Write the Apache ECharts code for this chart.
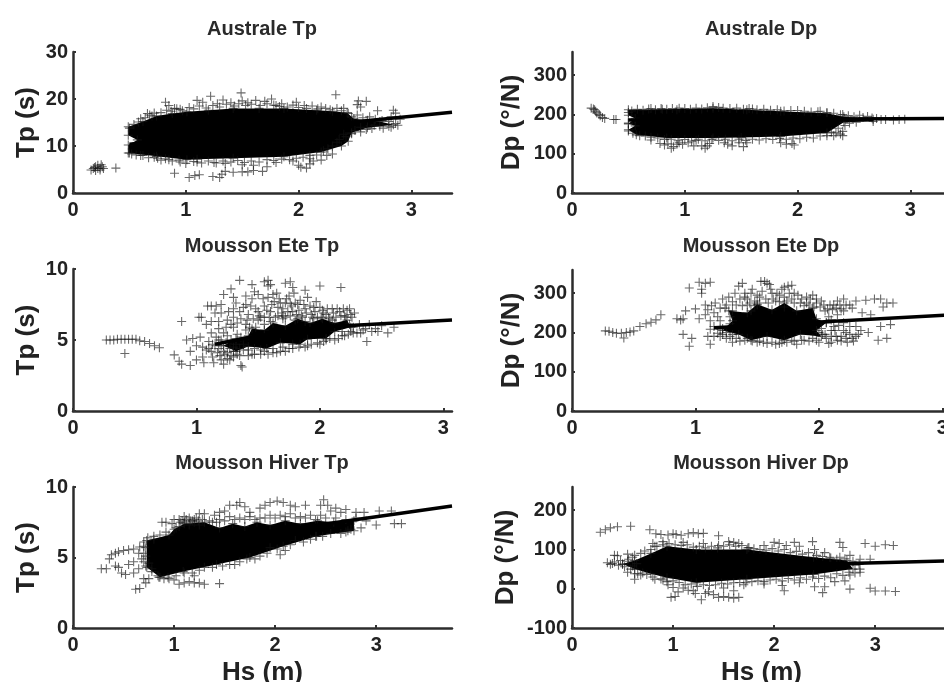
<!DOCTYPE html>
<html><head><meta charset="utf-8">
<style>html,body{margin:0;padding:0;background:#fff;overflow:hidden}#c{width:944px;height:682px;filter:blur(0.55px)}</style>
<script src="https://cdn.jsdelivr.net/npm/echarts@6/dist/echarts.min.js"></script>
</head><body><div id="c"></div>
<script>
const titles=['Australe Tp','Australe Dp','Mousson Ete Tp','Mousson Ete Dp','Mousson Hiver Tp','Mousson Hiver Dp'];
const yNames=['Tp (s)','Dp (°/N)','Tp (s)','Dp (°/N)','Tp (s)','Dp (°/N)'];
const xTicks=[0,1,2,3];
const yTicks=[[0,10,20,30],[0,100,200,300],[0,5,10],[0,100,200,300],[0,5,10],[-100,0,100,200]];
const xMax=[3.36,3.36,3.07,3.07,3.75,3.75];
const yMin=[0,0,0,0,0,-100];
const yMax=[30,359,10,359,10,259];

// dense, fully overprinted core of each cloud, read as an outline [Hs, value]
const core1=[[0.49,14.1],[0.62,15.2],[0.74,16.4],[0.88,16.9],[1.01,17.3],[1.2,17.6],[1.42,18],[1.65,18],[1.87,18],[2.16,17.6],[2.3,17.4],[2.43,17.1],[2.49,15.8],[2.61,15.5],[2.72,15.2],[2.84,14.5],[2.61,13.9],[2.47,12.8],[2.44,11],[2.38,10],[2.2,8.7],[1.87,7.7],[1.42,7.4],[1.1,7.2],[1.01,7.1],[0.74,7.8],[0.49,8.5],[0.49,10.2],[0.57,11.3],[0.49,12.3]];
const core2=[[0.5,212],[0.8,213],[1.25,216],[1.55,212],[1.85,208],[2.26,203],[2.41,194],[2.67,188],[2.67,182],[2.41,180],[2.26,153],[1.85,144],[1.5,141],[1.25,140],[0.84,140],[0.57,148],[0.5,161],[0.56,171],[0.5,176],[0.56,190],[0.5,198]];
const core3=[[1.22,4.6],[1.32,5.1],[1.42,5.3],[1.45,5.8],[1.55,5.7],[1.62,6.2],[1.72,6],[1.82,6.5],[1.92,6.2],[2.02,6.5],[2.12,6.2],[2.22,6.4],[2.25,5.9],[2.12,5.6],[2.05,5.1],[1.9,5.05],[1.84,4.7],[1.68,4.8],[1.57,4.4],[1.42,4.55],[1.32,4.2]];
const core4=[[1.22,205],[1.3,230],[1.27,255],[1.42,250],[1.5,272],[1.62,258],[1.72,275],[1.82,255],[1.95,262],[1.98,235],[2.06,225],[1.98,205],[2.02,190],[1.85,195],[1.72,180],[1.58,190],[1.45,180],[1.35,195]];
const core5=[[0.73,6.2],[0.95,6.6],[1,7],[1.1,7.4],[1.3,7.5],[1.45,7.1],[1.58,7.4],[1.7,7.2],[1.82,7.5],[1.95,7.3],[2.1,7.6],[2.25,7.4],[2.42,7.6],[2.58,7.5],[2.78,7.6],[2.78,6.9],[2.41,6.5],[2.08,5.8],[1.75,5],[1.42,4.5],[1.09,4],[0.86,3.6],[0.73,4.3]];
const core6=[[0.5,63],[0.62,72],[0.78,90],[0.94,108],[1.23,100],[1.73,100],[2.39,80],[2.72,72],[2.78,50],[2.39,36],[1.73,24],[1.23,15],[0.94,28],[0.78,38],[0.62,50]];

// individually visible crosses [Hs, value]
const marks1=[[0.16,4.9],[0.18,5.2],[0.2,5.6],[0.22,5.9],[0.24,5.3],[0.26,5.6],[0.2,4.8],[0.24,4.9],[0.22,5.2],[0.19,5.4],[0.25,6],[0.27,5.2],[0.38,5.3],[0.66,16.9],[0.68,16.6],[0.82,19.3],[0.85,18.6],[0.9,18],[0.95,17.8],[1.1,19.7],[1.15,19.3],[1.22,20.6],[1.28,19],[1.33,19.8],[1.4,19.2],[1.49,21.3],[1.5,19.6],[1.55,19.2],[1.62,19.7],[1.7,19.5],[1.76,20],[1.8,18.6],[1.85,19],[1.98,19.3],[2.05,18.6],[2.2,18.3],[2.33,20.9],[2.4,18],[2.53,19.6],[2.6,19.5],[2.52,18.8],[2.55,18.3],[2.7,17.5],[2.84,17.6],[2.86,17],[2.82,16.2],[2.9,15.7],[2.75,13.8],[2.82,14],[2.65,13.7],[2.5,13.3],[2.55,14],[2.4,12.5],[0.9,4.2],[1.03,3.3],[1.08,3.7],[1.12,3.9],[1.24,3.5],[1.3,3.3],[1.32,4],[1.35,4.6],[1.42,4.4],[1.5,4.5],[1.55,4.5],[1.6,4.8],[1.68,4.6],[1.72,5.6],[1.35,6.3],[1.5,6],[1.6,5.9],[1.8,6.5],[2,5.9],[2.02,5.5],[2.07,5.3],[2.1,6.2],[2.13,6.8],[2.2,7],[2.25,8],[2.3,8.3],[2.1,7.3],[1.95,6.8],[1.25,6.5],[1.1,6.6],[0.95,6.6],[0.85,7.1],[0.75,7.4],[0.6,8],[0.5,8.5],
[0.5,13.8],[0.54,14.6],[0.58,15.1],[0.6,15.8],[0.64,16],[0.7,16.4],[0.72,17],[0.78,17.1],[0.83,17.6],[0.87,17.4],[0.92,17.9],[0.97,17.5],[1.03,18.2],[1.07,17.9],[1.12,18.5],[1.18,18.1],[1.24,18.6],[1.3,18.3],[1.36,18.9],[1.43,18.5],[1.47,19],[1.53,18.6],[1.58,18.9],[1.66,18.6],[1.72,19],[1.78,18.7],[1.83,18.4],[1.9,18.3],[1.95,18.7],[2,18.2],[2.07,18],[2.12,18.5],[2.17,17.9],[2.24,18],[2.28,17.7],[2.34,18],[2.38,17.5],[2.44,16.9],[2.47,16.2],[2.52,16.6],[2.57,16],[2.63,16.2],[2.68,15.7],[2.74,15.4],[2.8,15.2],[2.86,14.8],[2.88,14.4],[2.8,14.2],[2.72,14.2],[2.67,14.4],[2.6,13.5],[2.55,13],[2.47,12.6],[2.42,12],[2.36,11.4],[2.34,10.8],[2.3,10],[2.26,9.4],[2.22,9],[2.16,8.1],[2.1,8],[2.04,7.6],[1.98,7.4],[1.92,7.1],[1.85,7.2],[1.78,6.9],[1.72,7.1],[1.65,6.6],[1.58,6.8],[1.52,6.5],[1.46,6.9],[1.4,6.6],[1.33,6.8],[1.27,6.4],[1.2,6.8],[1.14,6.4],[1.07,6.7],[1,6.3],[0.94,7],[0.88,6.8],[0.82,7.3],[0.78,7],[0.72,7.6],[0.67,7.5],[0.62,8],[0.56,8.1],[0.52,8.3]];
const marks2=[[0.17,216],[0.19,214],[0.2,212],[0.21,208],[0.22,204],[0.24,200],[0.25,197],[0.27,192],[0.29,190],[0.37,187],[0.39,187],[0.5,205],[0.5,178],[0.5,158],[0.7,215],[0.95,216],[1.25,220],[1.3,218],[1.6,214],[2,210],[2.2,208],[2.4,200],[2.55,198],[2.62,195],[2.7,190],[2.78,187],[2.85,186],[2.9,187],[2.95,188],[2.4,146],[2.38,150],[2.32,146],[2.3,155],[0.78,126],[0.82,122],[0.85,125],[0.88,114],[0.9,118],[0.93,124],[0.95,128],[0.98,124],[1.03,128],[1.08,120],[1.15,120],[1.18,114],[1.2,120],[1.22,126],[1.35,128],[1.38,124],[1.42,120],[1.48,128],[1.52,118],[1.55,128],[1.85,128],[1.9,124],[1.95,126],[1.97,122],[0.7,135],[1.1,134],
[0.53,209],[0.58,213],[0.63,211],[0.68,214],[0.74,212],[0.79,215],[0.84,213],[0.89,215],[0.93,212],[1,215],[1.05,213],[1.1,216],[1.15,214],[1.2,217],[1.34,216],[1.4,215],[1.46,216],[1.52,213],[1.57,215],[1.64,212],[1.7,213],[1.76,211],[1.82,212],[1.88,209],[1.94,210],[2.06,208],[2.12,206],[2.18,207],[2.26,205],[2.32,203],[2.38,199],[2.45,197],[2.5,194],[2.58,192],[2.66,191],[2.74,187],[0.54,152],[0.6,146],[0.65,145],[0.7,142],[0.76,140],[0.82,136],[0.88,137],[0.94,133],[1,136],[1.06,132],[1.12,137],[1.18,133],[1.24,136],[1.3,134],[1.36,137],[1.42,133],[1.48,137],[1.54,134],[1.6,137],[1.66,135],[1.72,138],[1.78,136],[1.84,139],[1.9,137],[1.96,140],[2.02,138],[2.08,142],[2.14,140],[2.2,145],[2.26,146],[2.34,153],[2.4,157],[2.36,165],[2.42,172],[2.46,178],[2.52,180]];
const marks3=[[0.27,5],[0.3,5],[0.33,5],[0.36,5.05],[0.39,5.05],[0.42,5.05],[0.45,5.05],[0.48,5.05],[0.51,5.05],[0.54,4.95],[0.58,4.9],[0.62,4.75],[0.66,4.6],[0.7,4.45],[0.42,4.05],[0.82,3.95],[0.86,3.5],[0.88,3.3],[0.95,3.2],[0.88,6.3],[0.92,5],[0.97,5.1],[0.95,4.2],[1,4.6],[1.03,5.2],[1.02,6.6],[1.04,6.6],[1,3.6],[1.05,3.8],[1.06,3.4],[1.08,4.3],[1.1,4.9],[1.12,5.5],[1.08,6.1],[1.09,7.4],[1.12,7.4],[1.16,7.4],[1.12,6.3],[1.18,6.3],[1.14,3.4],[1.2,3.6],[1.22,3.3],[1.25,3.7],[1.28,3.9],[1.22,8.2],[1.28,8.6],[1.3,8],[1.3,7.2],[1.35,9.2],[1.37,3.1],[1.36,3.2],[1.45,8.9],[1.55,9.1],[1.58,9.2],[1.58,8.8],[1.6,8.9],[1.72,9],[1.76,9.1],[1.78,8.7],[1.88,8.5],[2,8.8],[2.17,8.7],[1.68,7.6],[1.72,7.6],[1.76,7.55],[1.8,7.6],[1.2,6.9],[1.25,6.4],[1.3,6.6],[1.35,7],[1.4,7.5],[1.42,6.8],[1.45,7.9],[1.48,7.2],[1.5,8.2],[1.52,6.6],[1.55,7.4],[1.58,8],[1.6,7],[1.63,7.7],[1.65,8.3],[1.66,6.7],[1.7,7.2],[1.72,6.6],[1.75,8.1],[1.78,7],[1.82,7.5],[1.85,6.7],[1.88,7.2],[1.9,8],[1.93,6.8],[1.95,7.3],[1.98,6.6],[2.02,7.1],[2.05,6.8],[2.08,6.5],[2.1,7.2],[2.13,6.6],[2.16,7],[2.2,6.7],[2.22,7.1],[2.25,6.8],[1.2,4.6],[1.25,4.1],[1.3,5.9],[1.35,3.9],[1.4,6.1],[1.45,4],[1.5,6.4],[1.55,4.2],[1.6,6.3],[1.65,4.1],[1.7,6.5],[1.75,4.4],[1.8,6.4],[1.9,4.6],[1.95,6.5],[2,4.7],[2.05,5],[2.1,6.4],[2.15,5.1],[2.2,5.3],[2.25,5.6],[2.3,5.5],[2.32,6.1],[2.35,5.7],[2.38,4.9],[2.4,6.1],[2.45,5.8],[2.5,6],[2.55,5.5],[2.6,5.9],[1.12,4.2],[1.18,5],[1.22,5.5],[1.15,4.6],[1.3,4.5],[1.38,4.7],[1.05,4.5],
[1.15,6.9],[1.18,5.8],[1.2,7.5],[1.24,5.9],[1.26,7],[1.28,6.1],[1.32,7.6],[1.33,6.2],[1.36,6.5],[1.38,7.3],[1.4,8.1],[1.41,6.4],[1.44,7.4],[1.46,6.5],[1.47,8.4],[1.5,7],[1.51,6.7],[1.54,7.9],[1.55,6.6],[1.57,7.1],[1.59,6.6],[1.61,7.5],[1.62,8.2],[1.64,6.6],[1.66,7.3],[1.67,7.9],[1.69,6.9],[1.7,6.7],[1.73,7.9],[1.74,7],[1.76,6.7],[1.77,7.4],[1.79,8.3],[1.81,6.8],[1.83,7.1],[1.84,7.8],[1.86,6.6],[1.87,7.5],[1.89,6.9],[1.92,7.4],[1.94,6.6],[1.96,7],[1.97,7.7],[2,7.3],[2.01,6.6],[2.03,6.9],[2.06,7.2],[2.07,6.6],[2.11,6.9],[2.14,7.2],[2.17,6.7],[2.19,7.2],[2.21,6.6],[2.24,7.2],[2.26,6.6],[2.28,6.9],[1.1,4.4],[1.13,3.8],[1.17,4.1],[1.19,3.9],[1.23,4],[1.27,3.6],[1.3,3.8],[1.33,4],[1.42,3.9],[1.47,4],[1.52,4],[1.58,4],[1.62,4.1],[1.68,4.2],[1.72,4.2],[1.78,4.4],[1.83,4.5],[1.88,4.5],[1.93,4.7],[1.98,4.8],[2.03,4.9],[2.08,5.1],[2.12,5],[2.18,5.3],[2.23,5.4],[2.27,5.5],[2.33,5.5],[2.37,5.8],[2.42,5.6],[2.47,5.6],
[1.13,4.7],[1.16,5.2],[1.18,4.4],[1.2,5],[1.22,4.2],[1.24,4.8],[1.25,5.3],[1.27,4.4],[1.28,5],[1.3,4.2],[1.32,4.7],[1.33,5.4],[1.35,4.4],[1.36,5.2],[1.38,4.3],[1.4,5.7],[1.42,4.3],[1.43,5.9],[1.47,4.4],[1.48,5.9],[1.52,4.3],[1.55,6.1],[1.62,4.4],[1.7,4.5],[1.78,4.7],[1.88,6.3],[2.18,5.6],[2.24,6.1],[2.27,5.9]];
const marks4=[[0.27,204],[0.3,203],[0.33,200],[0.36,198],[0.4,198],[0.42,186],[0.44,200],[0.47,201],[0.5,204],[0.55,215],[0.6,222],[0.64,226],[0.68,232],[0.72,245],[0.85,235],[0.88,232],[0.9,235],[0.9,195],[0.95,165],[0.97,185],[0.95,313],[0.92,255],[1.03,328],[1.08,325],[1.12,328],[1.05,300],[1.05,310],[1,260],[1.03,235],[1.08,270],[1.12,230],[1.1,190],[1.15,190],[1.12,170],[1.2,190],[1.2,262],[1.25,270],[1.28,240],[1.3,175],[1.32,300],[1.35,318],[1.38,325],[1.4,290],[1.42,270],[1.45,300],[1.48,280],[1.5,175],[1.52,290],[1.53,330],[1.56,330],[1.58,325],[1.6,322],[1.62,300],[1.65,280],[1.65,170],[1.68,295],[1.72,315],[1.75,318],[1.78,320],[1.8,300],[1.82,170],[1.85,275],[1.88,180],[1.9,290],[1.92,270],[1.95,295],[1.98,285],[2,175],[2.02,280],[2.05,255],[2.05,195],[2.08,172],[2.1,175],[2.12,270],[2.15,280],[2.15,180],[2.18,260],[2.2,205],[2.2,285],[2.23,175],[2.25,270],[2.25,195],[2.3,280],[2.32,195],[2.35,250],[2.38,282],[2.4,200],[2.42,245],[2.45,285],[2.48,180],[2.5,285],[2.5,215],[2.52,265],[2.55,275],[2.55,185],[2.6,275],[2.58,220],[1.15,250],[1.2,230],[1.22,210],[1.25,185],[1.3,255],[1.4,180],[1.45,255],[1.5,270],[1.55,175],[1.7,175],[1.72,265],[1.78,180],[1.95,185],[2,200],[2.02,210],[2.1,205],[2.12,215],[2.18,190],[2.2,225],[2.25,215],[2.15,245],[2.08,240],[2.3,215],[1.15,215],[1.2,208],[1.25,200],[1.3,195],[1.12,208],
[1.08,245],[1.1,258],[1.13,268],[1.16,275],[1.18,240],[1.22,285],[1.24,262],[1.27,290],[1.28,222],[1.3,278],[1.33,270],[1.36,285],[1.38,268],[1.4,300],[1.42,285],[1.44,275],[1.46,310],[1.48,268],[1.5,295],[1.52,275],[1.54,305],[1.57,285],[1.59,275],[1.61,310],[1.63,285],[1.66,300],[1.68,278],[1.7,310],[1.72,290],[1.74,280],[1.76,300],[1.78,285],[1.8,275],[1.83,295],[1.86,285],[1.88,268],[1.9,275],[1.93,285],[1.96,265],[1.98,275],[2.01,265],[2.04,270],[2.07,260],[2.09,270],[2.11,258],[2.14,262],[2.17,270],[2.2,255],[2.22,270],[2.27,262],[2.06,225],[2.1,232],[2.13,205],[2.16,218],[2.22,200],[2.27,185],[2.1,190],[2.06,185],[2.03,195],[1.98,180],[1.92,178],[1.86,180],[1.8,178],[1.74,175],[1.68,172],[1.62,175],[1.58,172],[1.52,178],[1.46,178],[1.42,185],[1.36,178],[1.33,185],[1.28,190],[1.22,195],[1.18,198],[2.14,190],[2.18,178],[2.22,185],[2.28,178],[2.3,190],[2.34,205]];
const marks5=[[0.28,4.2],[0.33,4.2],[0.36,4.9],[0.38,5.2],[0.42,5.3],[0.45,5.4],[0.5,5.5],[0.55,5.55],[0.6,5.6],[0.66,5.75],[0.7,5.8],[0.42,4.4],[0.45,4.3],[0.48,3.9],[0.52,3.8],[0.55,4.5],[0.6,3.9],[0.62,2.75],[0.66,2.8],[0.7,3.5],[0.72,3.2],[0.75,3.5],[0.65,4.2],[0.6,4.7],[0.68,4.9],[0.72,5.1],[0.65,5.3],[0.85,3.6],[0.9,3.5],[0.95,3.5],[1,3.4],[1.05,3.1],[1.1,3.2],[1.15,3.3],[1.2,3.2],[1.25,3.2],[1.3,3.1],[1.45,3.15],[1.2,3.7],[0.88,7.5],[0.92,7.5],[0.98,7.4],[1,7.7],[1.05,7.7],[1.1,7.9],[1.15,7.8],[1.2,7.7],[1.25,8.1],[1.3,8.1],[1.4,8],[1.45,8.2],[1.5,8.3],[1.55,8.7],[1.62,8.7],[1.65,8.9],[1.7,8.6],[1.75,8.2],[1.85,8.5],[1.9,8.7],[1.95,8.9],[2.02,9],[2.08,8.9],[2.15,8.7],[2.2,8.6],[2.3,8.7],[2.45,8.7],[2.48,9.1],[2.52,8.7],[2.55,8.3],[2.6,8.5],[2.65,8.2],[2.7,8.4],[2.8,8.2],[2.88,8.2],[3.03,8.3],[3.15,8.3],[3.18,7.4],[3.25,7.4],[3,7.3],[2.9,7.6],[2.85,7.1],[2.75,7],[2.7,6.8],[2.4,6.5],[2.2,6.2],[2.1,5.5],[1.95,5.7],[2.05,5.2],[1.8,4.9],[1.6,4.5],[1.3,4.3],[1.1,3.9],[1.05,7.2],[1.1,7.5],[1.15,7.3],[1.2,7.5],[1.25,7.3],[1.35,7.6],[1.45,7.7],[1.55,7.9],[1.65,7.8],[1.75,7.9],[1.85,7.8],[1.95,8],[2.05,8],[2.15,8.1],[2.25,7.9],[2.35,8],[2.45,8],[1.08,7.6],[1.12,7.7],[1.18,7.6],[1.22,7.8],[0.8,6.3],[0.78,4],[0.75,4.6],
[0.74,6.4],[0.8,6.5],[0.86,6.6],[0.92,6.8],[1.02,7.1],[1.06,7.5],[1.16,7.6],[1.24,7.6],[1.28,7.7],[1.38,7.5],[1.42,7.5],[1.5,7.6],[1.6,7.7],[1.7,7.7],[1.8,7.7],[1.9,7.8],[2,7.8],[2.1,7.9],[2.2,7.8],[2.3,7.8],[2.4,7.7],[2.5,7.8],[2.6,7.8],[2.7,7.7],[2.8,7.8],[2.72,6.9],[2.65,6.7],[2.55,6.7],[2.47,6.5],[2.35,6.3],[2.28,6.1],[2.15,5.9],[2.02,5.6],[1.92,5.3],[1.85,5.1],[1.72,4.9],[1.65,4.7],[1.55,4.5],[1.48,4.4],[1.38,4.3],[1.25,4.1],[1.18,3.9],[1.02,3.7],[0.94,3.6],[0.84,3.7],[0.78,4.2],[0.72,4.4],[0.7,4.7],[0.7,5.3],[0.72,5.7],[0.7,6.1]];
const marks6=[[0.28,144],[0.33,150],[0.38,155],[0.45,158],[0.58,159],[0.77,150],[0.83,140],[0.88,138],[0.95,137],[1,140],[1.03,138],[1.08,136],[1.15,140],[1.2,143],[1.25,140],[1.3,141],[1.45,135],[0.8,115],[0.82,108],[0.9,120],[1.1,118],[1.3,115],[1.45,110],[1.55,120],[1.6,118],[1.65,115],[1.75,105],[1.9,110],[2,118],[2.05,115],[2.12,110],[2.2,118],[2.25,108],[2.38,120],[2.4,100],[2.65,118],[2.68,105],[2.9,115],[3,108],[3.1,112],[3.18,110],[2.95,75],[2.85,75],[2.75,85],[2.5,92],[2.55,80],[2.65,80],[0.35,66],[0.4,64],[0.42,85],[0.45,84],[0.5,62],[0.55,70],[0.6,58],[0.6,80],[0.65,38],[0.62,24],[0.7,40],[0.8,30],[0.9,22],[0.95,10],[1,3],[0.98,-22],[1.02,-20],[1.05,-8],[1.1,2],[1.15,-4],[1.2,-5],[1.22,-12],[1.28,-28],[1.32,-12],[1.35,-8],[1.4,-15],[1.45,-22],[1.5,-20],[1.55,-22],[1.6,-24],[1.65,-22],[1.6,-5],[1.5,2],[1.7,10],[1.9,12],[2.1,-5],[2.08,8],[2.25,15],[2.4,5],[2.48,-10],[2.5,5],[2.6,18],[2.7,20],[2.75,35],[2.85,42],[2.95,1],[2.75,-1],[3,-6],[3.1,-6],[3.2,-7],[2.85,50],[2.8,60],
[0.55,88],[0.62,85],[0.68,90],[0.72,96],[0.78,100],[0.84,108],[0.9,112],[0.96,115],[1.02,112],[1.08,110],[1.14,112],[1.2,106],[1.26,108],[1.32,104],[1.38,108],[1.44,104],[1.5,108],[1.56,112],[1.62,108],[1.68,110],[1.74,104],[1.8,102],[1.86,100],[1.92,98],[1.98,102],[2.04,96],[2.1,100],[2.16,92],[2.22,95],[2.28,88],[2.34,92],[2.42,85],[2.48,82],[2.56,78],[2.62,75],[2.7,76],[2.78,70],[2.84,62],[0.55,42],[0.62,38],[0.68,35],[0.74,36],[0.82,24],[0.88,25],[0.94,18],[1,20],[1.06,16],[1.12,10],[1.18,12],[1.24,6],[1.3,10],[1.36,8],[1.42,10],[1.48,14],[1.54,12],[1.6,15],[1.66,16],[1.72,15],[1.78,18],[1.84,20],[1.9,18],[1.96,22],[2.02,24],[2.08,20],[2.14,26],[2.2,22],[2.26,28],[2.32,24],[2.38,30],[2.44,26],[2.5,32],[2.56,28],[2.62,38],[2.68,34],[2.74,42],[2.8,40],[0.38,62],[0.42,68],[0.46,60],[0.48,72],[0.52,56],[0.56,75],[0.58,50],[0.64,64]];

// fitted curve, read where it is visible [Hs, value]
const fit1=[[0.5,10.4],[3.36,17.2]];
const fit2=[[0.5,186],[3.36,190]];
const fit3=[[1.15,4.7],[1.5,5.3],[2,5.9],[2.5,6.15],[3.07,6.4]];
const fit4=[[1.15,212],[3.07,245]];
const fit5=[[0.75,5.6],[3.75,8.65]];
const fit6=[[0.75,51],[3.75,71]];

const cores=[core1,core2,core3,core4,core5,core6];
const marks=[marks1,marks2,marks3,marks4,marks5,marks6];
const fits=[fit1,fit2,fit3,fit4,fit5,fit6];

const lefts=[73,572,73,572,73,572];
const tops=[52,52,269,270,487,487];
const bottoms=[193,193,411,411,628,628];
const titleY=[19,19,236,236,453,453];
const nameGaps=[33,47,33,47,33,53];
const font='"Liberation Sans",Arial,sans-serif';
const plus='path://M4.4 0h1.2v4.4h4.4v1.2h-4.4v4.4h-1.2v-4.4h-4.4v-1.2h4.4z';

const opt={animation:false,backgroundColor:'#fff',title:[],grid:[],xAxis:[],yAxis:[],series:[]};
titles.forEach((t,i)=>{
  opt.title.push({text:t,left:lefts[i]+189,top:titleY[i],textAlign:'center',padding:0,
    textStyle:{fontFamily:font,fontSize:20,fontWeight:'bold',color:'#2a2a2a'}});
  opt.grid.push({left:lefts[i],top:tops[i],width:379,height:bottoms[i]-tops[i],outerBoundsMode:'none'});
  const line={show:true,onZero:false,lineStyle:{color:'#2c2c2c',width:2.5}};
  opt.xAxis.push({type:'value',gridIndex:i,min:0,max:xMax[i],splitLine:{show:false},axisLine:line,
    axisTick:{customValues:xTicks,inside:true,length:3,lineStyle:{color:'#333',width:2}},
    axisLabel:{customValues:xTicks,margin:7,fontFamily:font,fontSize:20,fontWeight:'bold',color:'#222'},
    name:i>=4?'Hs (m)':'',nameLocation:'middle',nameGap:32,
    nameTextStyle:{fontFamily:font,fontSize:26,fontWeight:'bold',color:'#222'}});
  opt.yAxis.push({type:'value',gridIndex:i,min:yMin[i],max:yMax[i],splitLine:{show:false},axisLine:line,
    axisTick:{customValues:yTicks[i],inside:true,length:3,lineStyle:{color:'#333',width:2}},
    axisLabel:{customValues:yTicks[i],margin:5,fontFamily:font,fontSize:20,fontWeight:'bold',color:'#222'},
    name:yNames[i],nameLocation:'middle',nameGap:nameGaps[i],nameRotate:90,
    nameTextStyle:{fontFamily:font,fontSize:26,fontWeight:'bold',color:'#222'}});
  const outline=cores[i];
  opt.series.push({type:'custom',xAxisIndex:i,yAxisIndex:i,clip:true,data:outline,silent:true,
    renderItem:(params,api)=>{
      if(params.dataIndex!==0) return null;
      return {type:'polygon',shape:{points:outline.map(p=>api.coord(p))},style:{fill:'#000'}};
    }});
  opt.series.push({type:'scatter',xAxisIndex:i,yAxisIndex:i,symbol:plus,symbolSize:9,silent:true,
    data:outline.concat(marks[i]),itemStyle:{color:'rgba(20,20,20,0.8)'}});
  opt.series.push({type:'line',xAxisIndex:i,yAxisIndex:i,data:fits[i],showSymbol:false,silent:true,
    lineStyle:{color:'#000',width:3.5}});
});
echarts.init(document.getElementById('c'),null,{renderer:'canvas'}).setOption(opt);
</script></body></html>
